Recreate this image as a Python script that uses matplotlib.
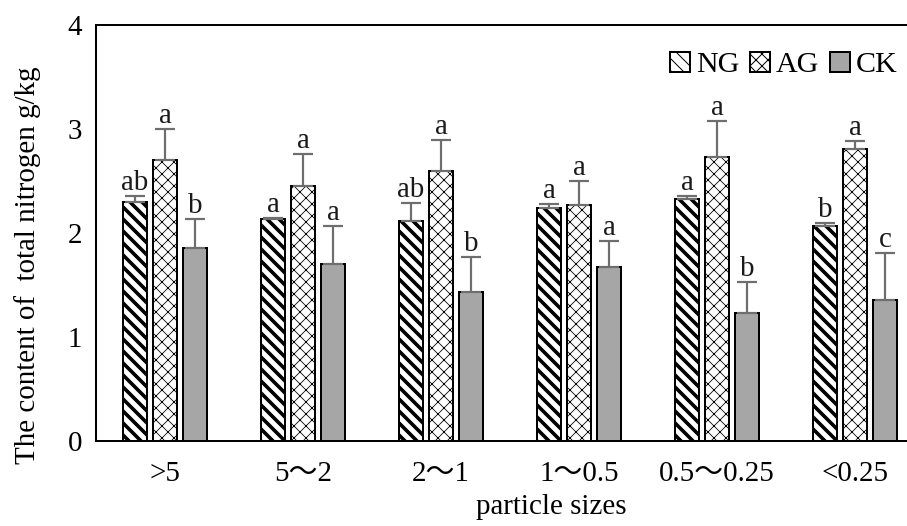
import matplotlib
matplotlib.use("Agg")
import matplotlib.pyplot as plt
import numpy as np

categories = [">5", "5～2", "2～1", "1～0.5", "0.5～0.25", "<0.25"]
series = ["NG", "AG", "CK"]
ng_vals = [2.30, 2.13, 2.12, 2.24, 2.33, 2.07]
ag_vals = [2.70, 2.45, 2.60, 2.27, 2.73, 2.81]
ck_vals = [1.86, 1.70, 1.43, 1.67, 1.23, 1.36]
ng_err = [0.06, 0.01, 0.17, 0.04, 0.03, 0.03]
ag_err = [0.30, 0.31, 0.29, 0.23, 0.35, 0.07]
ck_err = [0.27, 0.37, 0.34, 0.25, 0.30, 0.45]
ng_sig = ["ab", "a", "ab", "a", "a", "b"]
ag_sig = ["a", "a", "a", "a", "a", "a"]
ck_sig = ["b", "a", "b", "a", "b", "c"]
y_ticks = [0, 1, 2, 3, 4]

plt.rcParams['font.family'] = ['Liberation Serif', 'Noto Sans CJK SC', 'DejaVu Sans']
DPI = 72
W, H = 907, 526
fig = plt.figure(figsize=(W / DPI, H / DPI), dpi=DPI)
ax = fig.add_axes([96 / W, 85 / H, 828 / W, 416 / H])

x = np.arange(len(categories))
bw = 0.174
off = 0.2174
styles = [
    dict(facecolor="white", hatch="\\\\", hlw=3.6),
    dict(facecolor="white", hatch="xx", hlw=0.8),
    dict(facecolor="#a6a6a6", hatch=None, hlw=1.0),
]
vals = [ng_vals, ag_vals, ck_vals]
errs = [ng_err, ag_err, ck_err]
sigs = [ng_sig, ag_sig, ck_sig]

for k in range(3):
    st = styles[k]
    with plt.rc_context({'hatch.linewidth': st["hlw"]}):
        bars = ax.bar(x + (k - 1) * off, vals[k], width=bw, facecolor=st["facecolor"],
                      edgecolor="black", linewidth=2.0, hatch=st["hatch"], label=series[k],
                      zorder=2)
    for b in bars:
        if hasattr(b, "set_hatch_linewidth"):
            b.set_hatch_linewidth(st["hlw"])
    ax.errorbar(x + (k - 1) * off, vals[k], yerr=[np.zeros(len(x)), errs[k]], fmt="none",
                ecolor="#6e6e6e", elinewidth=2.2, capsize=10, capthick=2.2, zorder=3)
    for i in range(len(x)):
        ax.annotate(sigs[k][i], xy=(x[i] + (k - 1) * off, vals[k][i] + errs[k][i]),
                    xytext=(0, 6), textcoords="offset points", ha="center", va="baseline",
                    fontsize=29, color="#1a1a1a")

ax.set_xlim(-0.5, len(categories) - 0.5)
ax.set_ylim(0, 4)
ax.set_yticks(y_ticks)
ax.set_yticklabels([str(t) for t in y_ticks])
ax.set_xticks(x)
ax.set_xticklabels(categories)
ax.tick_params(axis="both", length=0, labelsize=29)
ax.tick_params(axis="y", pad=14)
ax.tick_params(axis="x", pad=20)
for s in ["left", "bottom", "top"]:
    ax.spines[s].set_linewidth(2.0)
ax.spines["right"].set_visible(False)

ax.set_xlabel("particle sizes", fontsize=29, va="center")
ax.xaxis.set_label_coords((551 - 96) / 828, -(507 - 441) / 416)
ax.set_ylabel("The content of  total nitrogen g/kg", fontsize=29, va="center")
ax.yaxis.set_label_coords((28 - 96) / 828, (441 - 265) / 416)

leg = ax.legend(loc="center right", bbox_to_anchor=(898 / W, 1 - 65 / H),
                bbox_transform=fig.transFigure, ncol=3, frameon=False, fontsize=30,
                handlelength=0.66, handleheight=0.66, handletextpad=0.2,
                columnspacing=0.37, borderpad=0, borderaxespad=0)

fig.savefig("out.png", dpi=DPI)
